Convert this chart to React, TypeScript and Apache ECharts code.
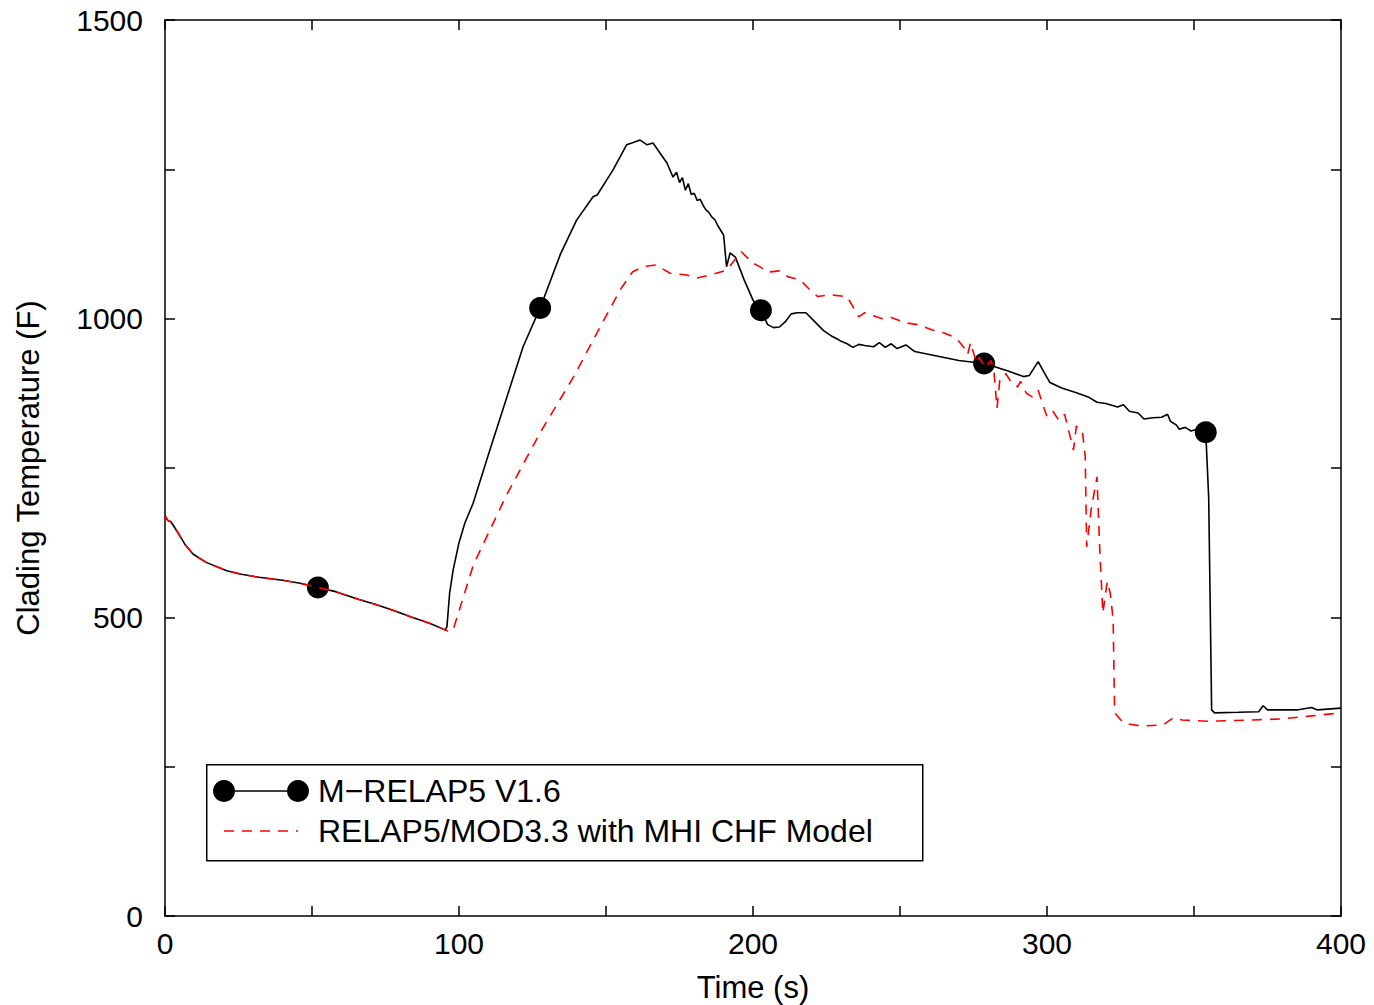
import React, { useEffect, useRef } from "react";
import * as echarts from "echarts";

const FONT = "'Liberation Sans', Arial, Helvetica, sans-serif";

const xTicks = [0, 100, 200, 300, 400];
const yTicks = [0, 500, 1000, 1500];

const seriesNames = ["M\u2212RELAP5 V1.6", "RELAP5/MOD3.3 with MHI CHF Model"];

// M-RELAP5 V1.6 (time s, temperature F)
const mrelapData: number[][] = [
  [0, 670], [1, 662], [2, 660], [4, 645], [6.8, 622], [9.5, 606], [14, 592], [21, 578], [26, 572],
  [32, 567], [40, 562], [46, 557], [52, 550], [58, 543], [66, 530], [72, 521], [78, 511], [84, 500],
  [90, 490], [95.3, 479], [95.9, 484], [96.8, 540], [98, 579], [100, 625], [102, 658], [104.8, 691],
  [110.5, 780], [116.3, 869], [121.8, 953], [127.6, 1018], [134.5, 1108], [140, 1165], [145.6, 1204],
  [147, 1207], [152.4, 1249], [157, 1291], [158.8, 1294], [161.6, 1299], [164, 1291], [166, 1294],
  [168.4, 1277], [170.7, 1261], [172.8, 1237], [174, 1245], [175, 1228], [176, 1236], [177, 1215],
  [178, 1226], [179, 1208], [180, 1210], [181, 1198], [182, 1200], [183, 1190], [184, 1182],
  [185, 1178], [186, 1170], [187, 1166], [188, 1156], [189, 1148], [190, 1140], [191, 1087],
  [192.2, 1110], [194, 1103], [197, 1065], [200, 1031],
  [202.7, 1014], [205, 990], [207, 985], [209, 986], [211, 995], [213, 1008], [215, 1010],
  [218, 1010], [221, 995], [224, 980], [227, 970], [229, 965], [230, 962], [232, 958], [234, 952],
  [236, 957], [238, 955], [241, 953], [243, 960], [245, 952], [247, 958], [249, 950], [252, 956],
  [255, 945], [260, 940], [265, 935], [270, 930], [275, 927], [278.6, 925], [282, 920], [287, 912],
  [292, 903], [294, 905], [297, 928], [299, 910], [301, 893], [305, 884], [310, 876], [314, 869],
  [317, 860], [320, 858], [324, 852], [326, 856], [328, 845], [331, 842], [333, 832], [336, 834],
  [339, 835], [341, 840], [342, 828], [344, 822], [345, 815], [347, 818], [349, 812], [351, 815],
  [354, 810], [355, 700], [356, 345], [357, 340], [365, 341], [372, 342], [373.5, 352], [375, 345],
  [385, 345], [390, 349], [392, 345], [400, 348],
];

// Marker positions on the M-RELAP5 curve
const mrelapMarkers: number[][] = [
  [52, 550], [127.6, 1018], [202.7, 1014], [278.6, 925], [354, 810],
];

// RELAP5/MOD3.3 with MHI CHF Model
const relapData: number[][] = [
  [0, 670], [1, 662], [2, 660], [4, 645], [6.8, 622], [9.5, 606], [14, 592], [21, 578], [26, 572],
  [32, 567], [40, 562], [46, 557], [52, 550], [58, 543], [66, 530], [72, 521], [78, 511], [84, 500],
  [90, 490], [95.3, 479], [97, 476], [98, 479], [104.9, 588], [116.2, 705], [127.6, 809],
  [138.9, 902], [148, 986], [154.8, 1048], [159, 1078], [162.6, 1087], [167, 1090], [171.8, 1076],
  [177.5, 1073], [181, 1068], [185.4, 1073], [191, 1081], [196, 1112], [200, 1093], [203, 1085],
  [205, 1078], [209, 1080], [212, 1070], [216, 1065], [219, 1050], [222, 1037], [226, 1040],
  [230, 1038], [232, 1037], [234, 1020], [236, 1003], [238, 1010], [241, 1005], [244, 1000],
  [247, 1002], [252, 993], [256, 990], [261, 981], [265, 976], [268, 970], [270, 962], [272, 950],
  [273, 940], [274, 960], [276, 926], [277, 935], [279, 918], [281, 930], [282, 910], [283, 850],
  [284, 900], [286, 908], [288, 892], [290, 886], [291, 895], [293, 875], [295, 869], [297, 880],
  [299, 850], [300, 836], [302, 845], [304, 830], [306, 840], [308, 800], [309, 780], [310, 820],
  [312, 813], [313, 770], [313.5, 618], [315, 680], [317, 735], [318, 607], [319, 507],
  [320.5, 560], [321.5, 541], [322.5, 496], [323, 340], [326, 323], [332, 318], [339.5, 320],
  [343, 332], [346, 328], [355, 326], [369, 328], [380, 330], [390, 335], [400, 340],
];

export default function App() {
  const ref = useRef<HTMLDivElement>(null);
  useEffect(() => {
    if (!ref.current) return;
    const chart = echarts.init(ref.current, undefined, { renderer: "svg" });
    const axisLine = { show: true, onZero: false, lineStyle: { color: "#000", width: 1.5 } };
    const tickStyle = { show: true, inside: true, length: 10, lineStyle: { color: "#000", width: 1.5 } };
    const txt = { color: "#000", fontFamily: FONT };
    chart.setOption({
      animation: false,
      backgroundColor: "#fff",
      textStyle: { fontFamily: FONT },
      grid: { left: 165, top: 20, right: 33, bottom: 89, containLabel: false, outerBoundsMode: "none" },
      xAxis: [
        {
          type: "value", min: 0, max: 400, interval: 50,
          name: "Time (s)", nameLocation: "middle", nameGap: 56,
          nameTextStyle: { ...txt, fontSize: 31 },
          axisLine, axisTick: tickStyle, splitLine: { show: false },
          axisLabel: { ...txt, fontSize: 30, margin: 12,
            formatter: (v: number) => (xTicks.includes(v) ? String(v) : "") },
        },
        {
          type: "value", min: 0, max: 400, interval: 50, position: "top",
          axisLine, axisTick: tickStyle, splitLine: { show: false }, axisLabel: { show: false },
        },
      ],
      yAxis: [
        {
          type: "value", min: 0, max: 1500, interval: 250,
          name: "Clading Temperature (F)", nameLocation: "middle", nameGap: 121, nameRotate: 90,
          nameTextStyle: { ...txt, fontSize: 31 },
          axisLine, axisTick: tickStyle, splitLine: { show: false },
          axisLabel: { ...txt, fontSize: 30, margin: 22,
            formatter: (v: number) => (yTicks.includes(v) ? String(v) : "") },
        },
        {
          type: "value", min: 0, max: 1500, interval: 250, position: "right",
          axisLine, axisTick: tickStyle, splitLine: { show: false }, axisLabel: { show: false },
        },
      ],
      series: [
        {
          name: seriesNames[0], type: "line", data: mrelapData, showSymbol: false, symbol: "none",
          lineStyle: { color: "#000", width: 1.6 }, z: 2,
        },
        {
          name: seriesNames[0] + " markers", type: "scatter", data: mrelapMarkers, symbol: "circle",
          symbolSize: 22, itemStyle: { color: "#000", opacity: 1 }, z: 3,
        },
        {
          name: seriesNames[1], type: "line", data: relapData, showSymbol: false, symbol: "none",
          lineStyle: { color: "#ff0000", width: 1.6, type: [10, 8] }, z: 4,
        },
      ],
      graphic: [
        {
          type: "rect", left: 206, top: 764, z: 10,
          shape: { width: 716, height: 96 },
          style: { fill: "#fff", stroke: "#000", lineWidth: 1.5 },
        },
        {
          type: "line", z: 11, shape: { x1: 224, y1: 791, x2: 298, y2: 791 },
          style: { stroke: "#000", lineWidth: 1.6 },
        },
        { type: "circle", z: 11, shape: { cx: 224, cy: 791, r: 11 }, style: { fill: "#000" } },
        { type: "circle", z: 11, shape: { cx: 298, cy: 791, r: 11 }, style: { fill: "#000" } },
        {
          type: "text", z: 11, x: 318, y: 791,
          style: { text: seriesNames[0], fill: "#000", font: `32px ${FONT}`, verticalAlign: "middle", align: "left" },
        },
        {
          type: "line", z: 11, shape: { x1: 224, y1: 831, x2: 298, y2: 831 },
          style: { stroke: "#ff0000", lineWidth: 1.6, lineDash: [10, 8] },
        },
        {
          type: "text", z: 11, x: 318, y: 831,
          style: { text: seriesNames[1], fill: "#000", font: `32px ${FONT}`, verticalAlign: "middle", align: "left" },
        },
      ],
    });
    return () => chart.dispose();
  }, []);
  return (
    <div
      ref={ref}
      style={{ position: "fixed", left: 0, top: 0, width: 1374, height: 1005, background: "#fff" }}
    />
  );
}
